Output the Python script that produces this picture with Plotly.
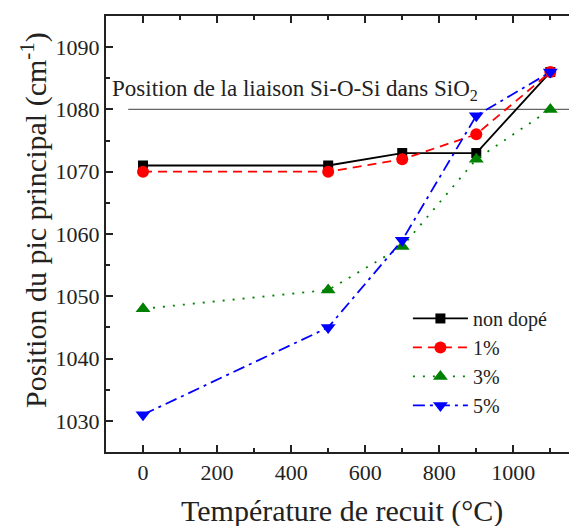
import plotly.graph_objects as go

temperatures = [0, 500, 700, 900, 1100]
non_dope = [1071, 1071, 1073, 1073, 1086]
dope_1 = [1070, 1070, 1072, 1076, 1086]
dope_3 = [1048, 1051, 1058, 1072, 1080]
dope_5 = [1031, 1045, 1059, 1079, 1086]
sio2_position = 1080
series_names = ["non dopé", "1%", "3%", "5%"]

FONT = "Liberation Serif, serif"
INK = "#222222"

fig = go.Figure()

fig.add_trace(go.Scatter(x=[-40, 1300], y=[sio2_position, sio2_position], mode="lines",
                         line=dict(color="#666666", width=1.3), showlegend=False, hoverinfo="skip"))

styles = [
    (non_dope, "black", "solid", "square", 10),
    (dope_1, "red", "9px,6px", "circle", 12),
    (dope_3, "green", "2px,8px", "triangle-up", 13),
    (dope_5, "blue", "12px,5px,3px,5px", "triangle-down", 13),
]
for name, (vals, col, dash, sym, sz) in zip(series_names, styles):
    fig.add_trace(go.Scatter(x=temperatures, y=vals, name=name, mode="lines+markers",
                             line=dict(color=col, dash=dash, width=1.8),
                             marker=dict(symbol=sym, size=sz, color=col)))

fig.add_annotation(x=-100, y=1083.2, xref="x", yref="y", xanchor="left", yanchor="middle",
                   text="Position de la liaison Si-O-Si dans SiO<sub>2</sub>", showarrow=False,
                   font=dict(family=FONT, size=23, color=INK), xshift=4)

# axis titles
fig.add_annotation(x=0.5, y=-0.135, xref="paper", yref="paper", xanchor="center", yanchor="middle",
                   text="Température de recuit (°C)", showarrow=False,
                   font=dict(family=FONT, size=30, color=INK))
fig.add_annotation(x=-0.153, y=0.532, xref="paper", yref="paper", xanchor="center", yanchor="middle",
                   text="Position du pic principal (cm<sup>-1</sup>)", showarrow=False, textangle=-90,
                   font=dict(family=FONT, size=30, color=INK))

fig.update_layout(
    width=569, height=518,
    margin=dict(l=98, r=0, t=8, b=74),
    paper_bgcolor="white", plot_bgcolor="white",
    font=dict(family=FONT, color=INK),
    legend=dict(x=0.641, y=0.351, xanchor="left", yanchor="top", bgcolor="rgba(0,0,0,0)",
                font=dict(family=FONT, size=20), tracegroupgap=0, itemwidth=55),
    xaxis=dict(range=[-100, 1172], tickvals=[0, 200, 400, 600, 800, 1000], automargin=False,
               ticks="inside", ticklen=7, tickwidth=2, tickcolor=INK,
               showline=True, linewidth=2, linecolor=INK, mirror="ticks",
               showgrid=False, zeroline=False,
               minor=dict(dtick=100, tick0=0, ticks="inside", ticklen=4, tickwidth=2, tickcolor=INK),
               tickfont=dict(family=FONT, size=22)),
    yaxis=dict(range=[1025, 1095], tickvals=[1030, 1040, 1050, 1060, 1070, 1080, 1090], automargin=False,
               ticks="inside", ticklen=7, tickwidth=2, tickcolor=INK,
               showline=True, linewidth=2, linecolor=INK,
               showgrid=False, zeroline=False,
               minor=dict(dtick=5, tick0=1025, ticks="inside", ticklen=4, tickwidth=2, tickcolor=INK),
               tickfont=dict(family=FONT, size=22)),
)

fig.write_html("out.html")
